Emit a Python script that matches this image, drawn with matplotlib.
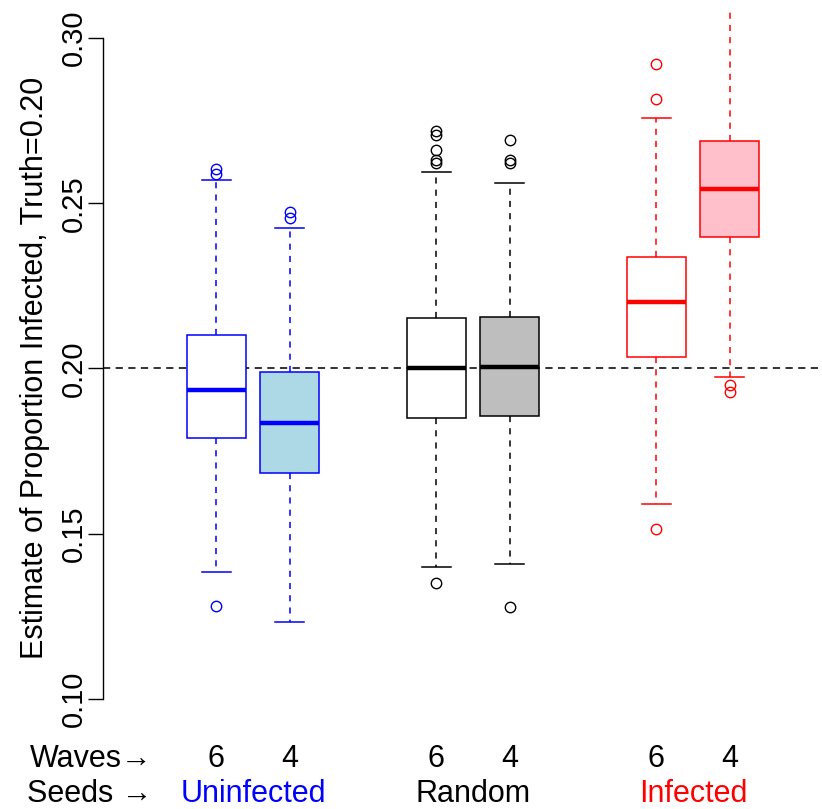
import matplotlib
matplotlib.use("Agg")
import matplotlib.pyplot as plt

plt.rcParams['font.family'] = ['Liberation Sans', 'DejaVu Sans']

# box positions (gaps between seed groups)
positions = [1, 2, 4, 5, 7, 8]
waves = ['6', '4', '6', '4', '6', '4']
seed_groups = ['Uninfected', 'Random', 'Infected']
seed_colors = ['#0000FF', '#000000', '#FF0000']

# five-number summaries
whislo = [0.1384, 0.1233, 0.1400, 0.1409, 0.1591, 0.1974]
q1 = [0.1790, 0.1685, 0.1850, 0.1856, 0.2036, 0.2399]
med = [0.1935, 0.1836, 0.2001, 0.2004, 0.2202, 0.2544]
q3 = [0.2102, 0.1989, 0.2152, 0.2156, 0.2336, 0.2689]
whishi = [0.2572, 0.2426, 0.2595, 0.2562, 0.2758, 0.3150]
fliers = [
    [0.1281, 0.2588, 0.2603],
    [0.2457, 0.2474],
    [0.1352, 0.2623, 0.2631, 0.2661, 0.2706, 0.2720],
    [0.1279, 0.2621, 0.2631, 0.2693],
    [0.1513, 0.2816, 0.2921],
    [0.1928, 0.1951],
]
edge_colors = ['#0000FF', '#0000FF', '#000000', '#000000', '#FF0000', '#FF0000']
fill_colors = ['#FFFFFF', '#ADD8E6', '#FFFFFF', '#BEBEBE', '#FFFFFF', '#FFC0CB']
truth = 0.20

fig = plt.figure(figsize=(8.22, 8.09), dpi=100)
ax = fig.add_axes([103 / 822, 84 / 809, 719 / 822, 714 / 809])

stats = []
for i in range(len(positions)):
    stats.append({'whislo': whislo[i], 'q1': q1[i], 'med': med[i], 'q3': q3[i],
                  'whishi': whishi[i], 'fliers': fliers[i]})

for i, st in enumerate(stats):
    c = edge_colors[i]
    ax.bxp([st], positions=[positions[i]], widths=0.8, patch_artist=True,
           boxprops=dict(facecolor=fill_colors[i], edgecolor=c, linewidth=1.1),
           medianprops=dict(color=c, linewidth=3.2, solid_capstyle='butt'),
           whiskerprops=dict(color=c, linewidth=1.1, linestyle=(0, (4, 4))),
           capprops=dict(color=c, linewidth=1.1),
           flierprops=dict(marker='o', markerfacecolor='none', markeredgecolor=c,
                           markersize=7.5, markeredgewidth=1.0),
           manage_ticks=False)

ax.axhline(truth, color='#222222', linewidth=1.3, linestyle=(0, (4, 3)), zorder=0.5)

ax.set_xlim(-0.548, 9.26)
ax.set_ylim(0.0921, 0.3082)

for s in ['top', 'right', 'bottom']:
    ax.spines[s].set_visible(False)
ax.spines['left'].set_bounds(0.10, 0.30)
ax.spines['left'].set_linewidth(1.0)
ax.set_xticks([])
ax.set_yticks([0.10, 0.15, 0.20, 0.25, 0.30])
ax.set_yticklabels(['0.10', '0.15', '0.20', '0.25', '0.30'], rotation=90,
                   va='center', fontsize=21)
ax.tick_params(axis='y', length=11, width=1.0, pad=0)
ax.set_ylabel('Estimate of Proportion Infected, Truth=0.20', fontsize=22, labelpad=7)

# bottom annotations
y_waves = 0.0819
y_seeds = 0.0713
ax.text(0.12, y_waves, 'Waves\u2192', ha='right', va='center', fontsize=22,
        clip_on=False, family=['Liberation Sans', 'DejaVu Sans'])
ax.text(0.12, y_seeds, 'Seeds \u2192', ha='right', va='center', fontsize=22,
        clip_on=False, family=['Liberation Sans', 'DejaVu Sans'])
for p, w in zip(positions, waves):
    ax.text(p, y_waves, w, ha='center', va='center', fontsize=22, clip_on=False)
for g, name in enumerate(seed_groups):
    center = (positions[2 * g] + positions[2 * g + 1]) / 2
    ax.text(center, y_seeds, name, ha='center', va='center', fontsize=22,
            color=seed_colors[g], clip_on=False)

fig.savefig('out.png', dpi=100)
